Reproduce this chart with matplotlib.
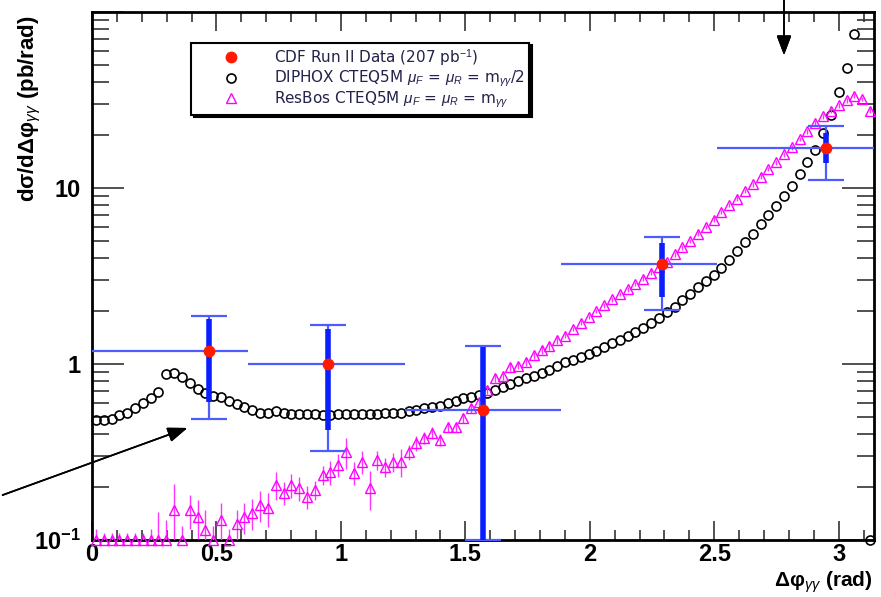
import numpy as np
import matplotlib
matplotlib.use('Agg')
import matplotlib.pyplot as plt
from matplotlib.ticker import FixedLocator, MultipleLocator, LogLocator, NullFormatter

plt.rcParams['font.family'] = ['Liberation Sans', 'DejaVu Sans']
plt.rcParams['mathtext.fontset'] = 'custom'
plt.rcParams['mathtext.rm'] = 'Liberation Sans'
plt.rcParams['mathtext.it'] = 'Liberation Sans:italic'
plt.rcParams['mathtext.bf'] = 'Liberation Sans:bold'

# 100 bins in delta phi between 0 and pi
nbins = 100
bin_w = np.pi / nbins
phi = (np.arange(nbins) + 0.5) * bin_w

# DIPHOX prediction (pb/rad)
diphox = [0.48, 0.48, 0.49, 0.51, 0.53, 0.56, 0.60, 0.64, 0.69, 0.88,
          0.89, 0.84, 0.78, 0.72, 0.68, 0.66, 0.65, 0.62, 0.59, 0.57,
          0.55, 0.53, 0.53, 0.54, 0.53, 0.52, 0.52, 0.52, 0.52, 0.51,
          0.51, 0.52, 0.52, 0.52, 0.52, 0.52, 0.52, 0.53, 0.53, 0.53,
          0.54, 0.55, 0.56, 0.57, 0.58, 0.60, 0.62, 0.64, 0.65, 0.67,
          0.68, 0.71, 0.74, 0.77, 0.80, 0.83, 0.86, 0.89, 0.93, 0.98,
          1.02, 1.06, 1.10, 1.14, 1.19, 1.25, 1.31, 1.37, 1.44, 1.52,
          1.61, 1.71, 1.83, 1.97, 2.12, 2.30, 2.50, 2.72, 2.95, 3.2,
          3.5, 3.9, 4.4, 4.9, 5.5, 6.2, 7.0, 7.9, 9.0, 10.2,
          12.0, 14.0, 16.5, 20.5, 26.0, 35.0, 48.0, 75.0, 150.0, 0.1]

# ResBos prediction (pb/rad) and relative MC uncertainty
resbos = [0.1, 0.1, 0.1, 0.1, 0.1, 0.1, 0.1, 0.1, 0.1, 0.1,
          0.148, 0.1, 0.148, 0.135, 0.114, 0.1, 0.13, 0.1, 0.124, 0.135,
          0.142, 0.158, 0.152, 0.205, 0.185, 0.205, 0.197, 0.176, 0.192, 0.234,
          0.243, 0.267, 0.316, 0.24, 0.278, 0.197, 0.285, 0.26, 0.278, 0.278,
          0.316, 0.356, 0.38, 0.405, 0.37, 0.438, 0.438, 0.494, 0.56, 0.61,
          0.71, 0.83, 0.85, 0.96, 0.98, 1.03, 1.12, 1.20, 1.27, 1.36,
          1.45, 1.58, 1.72, 1.85, 2.0, 2.15, 2.33, 2.5, 2.65, 2.85,
          3.05, 3.3, 3.55, 3.8, 4.2, 4.6, 5.0, 5.5, 6.0, 6.6,
          7.3, 8.0, 8.7, 9.6, 10.5, 11.6, 12.8, 14.0, 15.5, 17.0,
          19.0, 21.0, 23.5, 25.5, 27.5, 29.5, 31.5, 33.5, 32.0, 27.5]
resbos_rel = [0.15, 0.1, 0.1, 0.1, 0.1, 0.1, 0.1, 0.15, 0.45, 0.3,
              0.4, 0.2, 0.22, 0.25, 0.3, 0.2, 0.25, 0.15, 0.2, 0.2,
              0.2, 0.2, 0.22, 0.18, 0.15, 0.15, 0.15, 0.15, 0.12, 0.12,
              0.15, 0.15, 0.2, 0.15, 0.15, 0.25, 0.12, 0.12, 0.12, 0.18,
              0.1, 0.1, 0.08, 0.08, 0.08, 0.06, 0.06, 0.06, 0.06, 0.05,
              0.05, 0.05, 0.05, 0.05, 0.05, 0.05, 0.05, 0.05, 0.05, 0.05,
              0.03, 0.03, 0.03, 0.03, 0.03, 0.03, 0.03, 0.03, 0.03, 0.03,
              0.03, 0.03, 0.03, 0.03, 0.03, 0.03, 0.03, 0.03, 0.03, 0.03,
              0.03, 0.03, 0.03, 0.03, 0.03, 0.03, 0.03, 0.03, 0.03, 0.03,
              0.03, 0.03, 0.03, 0.03, 0.03, 0.03, 0.03, 0.03, 0.03, 0.03]

# CDF Run II data, 5 bins of pi/5
cdf_x = [0.47, 0.95, 1.57, 2.29, 2.95]
cdf_y = [1.19, 1.0, 0.55, 3.7, 16.9]
cdf_xlo = [0.0, 0.628, 1.257, 1.885, 2.513]
cdf_xhi = [0.628, 1.257, 1.885, 2.513, 3.1416]
cdf_tot_lo = [0.49, 0.32, 0.1, 2.03, 11.1]
cdf_tot_hi = [1.87, 1.67, 1.27, 5.27, 22.5]
cdf_stat_lo = [0.61, 0.42, 0.1, 2.40, 13.9]
cdf_stat_hi = [1.80, 1.57, 1.25, 4.87, 20.5]

ymin, ymax = 0.1, 100.0

fig = plt.figure(figsize=(8.81, 5.97), dpi=100)
ax = fig.add_axes([0.1044, 0.0955, 0.8876, 0.8845])

# DIPHOX: open black circles
dip = np.array(diphox)
keep = dip <= ymax
h_dip, = ax.plot(phi[keep], dip[keep], 'o', mfc='none', mec='black', ms=6.5, mew=1.2,
                 clip_on=False, zorder=3)

# ResBos: open magenta triangles with MC errors
res = np.array(resbos)
rerr = res * np.array(resbos_rel)
eb = ax.errorbar(phi, res, yerr=rerr, fmt='^', mfc='none', mec='#ff00ff', ms=7, mew=1.0,
                 ecolor='#ff33ff', elinewidth=1.0, capsize=0, zorder=4)
eb[0].set_clip_on(False)
h_res = eb[0]

# CDF data: bin width, thin total error with caps, thick stat error
cx = np.array(cdf_x)
cy = np.array(cdf_y)
ax.errorbar(cx, cy, xerr=[cx - np.array(cdf_xlo), np.array(cdf_xhi) - cx],
            fmt='none', ecolor='#4d5cff', elinewidth=1.6, capsize=0, zorder=5)
ax.errorbar(cx, cy, yerr=[cy - np.array(cdf_tot_lo), np.array(cdf_tot_hi) - cy],
            fmt='none', ecolor='#4d5cff', elinewidth=1.6, capsize=13, capthick=1.6, zorder=5)
ax.errorbar(cx, cy, yerr=[cy - np.array(cdf_stat_lo), np.array(cdf_stat_hi) - cy],
            fmt='none', ecolor='#0a1eff', elinewidth=4, capsize=0, zorder=6)
h_cdf, = ax.plot(cx, cy, 'o', color='#ff1a00', ms=7.5, zorder=7)

ax.set_yscale('log')
ax.set_xlim(0, np.pi)
ax.set_ylim(ymin, ymax)

ax.xaxis.set_major_locator(MultipleLocator(0.5))
ax.xaxis.set_minor_locator(MultipleLocator(0.1))
ax.xaxis.set_major_formatter(plt.FuncFormatter(lambda v, p: f'{v:g}'))
ax.yaxis.set_major_locator(FixedLocator([0.1, 1, 10, 100]))
ax.yaxis.set_minor_locator(LogLocator(base=10, subs=np.arange(2, 10)))
ax.yaxis.set_minor_formatter(NullFormatter())
ax.set_yticklabels([r'$\mathbf{10^{-1}}$', '1', '10', ''])

ax.tick_params(which='both', direction='in', top=True, right=True, colors='#333333',
               labelcolor='black', width=1.2)
ax.tick_params(axis='x', which='major', length=14, labelsize=17, pad=2)
ax.tick_params(axis='x', which='minor', length=7)
ax.tick_params(axis='y', which='major', length=23, labelsize=17, pad=8)
ax.tick_params(axis='y', which='minor', length=12)
for lab in ax.get_xticklabels() + ax.get_yticklabels():
    lab.set_fontweight('bold')
for sp in ax.spines.values():
    sp.set_linewidth(2)

fig.text(30 / 881, 1 - 15 / 597, r'dσ/dΔφ$_{\gamma\gamma}$ (pb/rad)',
         rotation=90, ha='center', va='top', fontsize=16, fontweight='bold')
fig.text(873 / 881, 1 - 582 / 597, r'Δφ$_{\gamma\gamma}$ (rad)',
         ha='right', va='center', fontsize=15, fontweight='bold')

leg = ax.legend([h_cdf, h_dip, h_res],
                [r'CDF Run II Data (207 pb$^{-1}$)',
                 r'DIPHOX CTEQ5M $\mu_F$ = $\mu_R$ = m$_{\gamma\gamma}$/2',
                 r'ResBos CTEQ5M $\mu_F$ = $\mu_R$ = m$_{\gamma\gamma}$'],
                loc='upper left', bbox_to_anchor=(0.127, 0.942),
                prop={'family': 'DejaVu Sans', 'size': 11},
                frameon=True, fancybox=False, edgecolor='black', framealpha=1,
                shadow={'color': 'black', 'alpha': 1}, borderpad=0.3,
                labelspacing=0.02, handlelength=4.6, handletextpad=0.5, borderaxespad=0)
leg.get_frame().set_linewidth(1.5)
for t in leg.get_texts():
    t.set_color('#22224a')

# arrows pointing at the features
arrow_style = dict(arrowstyle='-|>,head_width=0.45,head_length=1.2', color='black', lw=1.2)
fig.add_artist(plt.annotate('', xy=(784, 539), xytext=(784, 600),
                            xycoords='figure pixels', arrowprops=arrow_style))
fig.add_artist(plt.annotate('', xy=(190, 170), xytext=(0, 101),
                            xycoords='figure pixels', arrowprops=arrow_style))

fig.savefig('out.png', dpi=100)
